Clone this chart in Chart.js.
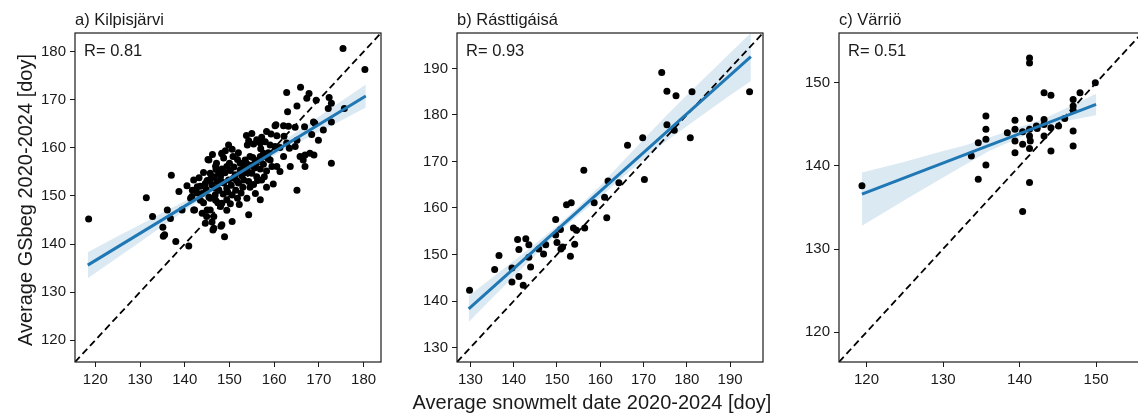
<!DOCTYPE html>
<html>
<head>
<meta charset="utf-8">
<script src="https://cdn.jsdelivr.net/npm/chart.js@4.4.0/dist/chart.umd.min.js"></script>
<style>
  html, body { margin: 0; padding: 0; background: #fff; overflow: hidden; }
  #wrap { position: relative; width: 1138px; height: 415px; overflow: hidden; }
  canvas { position: absolute; top: 0; }
</style>
</head>
<body>
<div id="wrap">
  <canvas id="chartA" width="390" height="415" style="left:0px"></canvas>
  <canvas id="chartB" width="375" height="415" style="left:395px"></canvas>
  <canvas id="chartC" width="366" height="415" style="left:780px"></canvas>
</div>
<script>
"use strict";

// ---- data (snowmelt doy, GSbeg doy) ----
const pointsA = [
  [118.5,145.2],[131.4,149.6],[132.8,145.7],[135.1,143.5],[135.2,141.6],[135.5,141.9],[137.0,154.3],[136.8,145.3],
  [138.0,140.5],[140.9,139.6],[139.4,147.1],[138.7,150.9],[148.9,141.5],
  [160.4,164.8],[162.1,164.6],[158.3,163.4],[159.3,162.9],[160.6,162.5],[162.2,162.4],[157.2,162.2],
  [154.3,161.5],[156.1,161.7],[154.0,160.6],[155.4,160.8],[156.9,161.0],[158.0,161.3],[159.1,160.6],[160.2,160.3],
  [161.3,160.1],[162.8,161.0],[149.1,159.4],[150.6,159.7],[148.3,158.8],
  [157.6,158.9],[158.7,159.0],[145.4,157.5],[147.1,156.8],[148.7,157.9],[152.4,156.8],[153.5,157.5],[154.6,158.2],
  [155.7,156.8],[156.5,157.5],[156.9,158.2],[159.1,157.5],[162.1,158.2],[160.6,156.1],[161.3,155.1],
  [144.2,154.9],[145.7,154.7],[146.5,154.0],[147.6,154.7],[148.3,155.6],[149.4,156.1],[150.2,155.3],[151.3,154.4],
  [152.4,155.4],[153.2,156.0],[154.0,155.3],[155.0,154.7],[156.1,154.0],[156.9,155.6],[158.3,155.2],[159.5,156.1],
  [142.0,153.3],[140.5,152.1],[143.5,152.0],[145.0,153.2],[146.1,152.3],[147.2,153.0],[148.7,152.7],[149.8,153.3],
  [150.9,153.7],[152.0,152.7],[153.2,153.3],[154.3,153.0],[154.6,151.8],[157.2,153.3],[158.3,151.8],[159.8,152.5],
  [149.4,151.6],[147.6,151.3],
  [141.6,149.9],[142.8,150.6],[144.2,148.6],[145.7,149.5],[146.8,150.2],[148.0,147.8],[149.4,149.2],[150.6,150.2],
  [151.8,149.5],[153.9,149.5],[156.9,149.2],[142.0,147.1],[145.7,147.1],[149.4,147.0],
  [146.5,145.7],[154.3,146.1],[150.6,144.7],[148.3,144.0],[144.6,144.3],[146.5,143.3],[136.1,147.1],
  [145.2,157.6],[146.9,156.2],[148.3,158.9],[141.7,151.2],[142.8,151.9],[143.9,150.5],[141.3,149.5],[143.5,149.1],
  [145.4,149.8],[146.9,149.1],[147.6,151.2],[148.3,152.9],[148.3,148.5],[142.2,147.1],[143.9,146.4],[145.0,147.1],
  [144.9,145.7],[146.1,144.6],[148.1,143.7],[146.3,142.9],
  [162.8,171.5],[165.9,172.6],[167.8,171.3],[169.4,169.9],[172.3,170.5],[172.8,169.3],[165.1,168.7],[163.0,167.5],
  [167.3,170.3],[172.1,168.2],[175.7,168.2],[164.7,164.3],[166.8,164.4],[168.8,165.4],[169.1,165.1],[171.0,163.7],
  [172.8,165.4],[168.4,162.8],[169.9,161.6],[165.1,161.6],[164.7,160.3],[165.8,158.2],[166.9,158.5],[168.0,158.9],
  [168.9,158.5],[166.5,157.5],[166.9,156.1],[163.6,156.1],[172.8,156.8],[165.1,151.2],[175.4,180.7],[180.3,176.3],
  [163.2,164.5],[163.4,159.9],[160.2,164.6],
  [147.0,155.5],[148.0,154.0],[149.0,154.8],[150.0,156.8],[151.0,156.0],[151.8,157.6],[152.8,154.2],[153.6,154.8],
  [154.8,156.4],[155.6,155.8],[156.3,153.2],[157.6,156.6],[150.4,152.2],[151.4,151.2],[152.6,150.6],[153.0,151.8],
  [155.4,152.4],[155.8,150.5],[144.6,152.6],[143.2,153.8],[146.8,151.6],[148.6,150.4],[149.6,150.8],[150.2,148.4],
  [152.2,148.2],[147.4,148.6],[144.8,151.4],[151.6,153.2],[153.8,156.8],[150.8,158.2],[146.2,158.6],[149.8,160.6],
  [152.0,159.0],[157.0,159.8],[158.6,157.8],[157.8,154.0],[155.2,158.0],[145.8,153.6],[153.8,162.6],[155.0,163.0]
];
const pointsB = [
  [129.8,142.3],[135.6,146.8],[136.6,149.8],[139.6,144.1],[139.6,147.1],[140.9,153.2],[141.2,151.1],[141.2,145.3],
  [142.2,143.4],[142.8,153.4],[143.5,152.1],[143.5,149.4],[143.9,147.3],[145.8,151.2],[146.9,150.1],[147.4,152.1],
  [149.7,157.5],[149.7,154.2],[150.0,152.6],[150.8,155.4],[150.9,151.2],[151.3,151.6],[152.2,160.7],[153.3,161.1],
  [153.1,149.6],[153.8,155.7],[154.1,152.2],[154.5,155.2],[156.2,168.1],[156.4,155.7],[158.6,161.1],[161.0,162.3],
  [161.5,157.9],[161.8,165.8],[164.3,165.4],[166.3,173.5],[169.8,175.1],[170.2,166.1],[174.2,189.1],[175.4,185.1],
  [175.4,177.9],[177.1,176.7],[177.5,184.1],[180.8,175.1],[181.2,185.0],[194.5,185.0]
];
const pointsC = [
  [119.4,137.6],[133.7,141.2],[134.6,142.8],[134.6,138.4],[135.6,146.0],[135.6,144.4],[135.6,143.2],[135.6,140.1],
  [138.4,144.0],[139.4,145.5],[139.4,144.4],[139.4,143.0],[139.4,141.6],[140.4,142.6],[140.4,144.1],[140.4,134.5],
  [141.3,153.0],[141.3,152.4],[141.3,145.7],[141.3,144.4],[141.3,143.6],[141.4,143.0],[141.3,142.1],[141.3,138.0],
  [142.2,144.8],[142.3,144.5],[143.2,148.8],[143.2,145.6],[143.2,145.0],[143.2,143.6],[144.1,148.5],[144.1,144.6],
  [144.1,141.8],[145.1,144.8],[145.9,145.7],[147.0,148.0],[147.0,147.2],[147.0,146.7],[147.0,144.2],[147.0,142.4],
  [147.9,148.8],[149.9,150.0]
];

// regression fit and confidence band
const fitAx = [118.3, 180.5], fitAy = [135.6, 170.8];
const bandAx = [118.3, 125, 130, 135, 140, 145, 150, 155, 160, 165, 170, 175, 180.5];
const bandAup = [138.3, 141.6, 144.0, 146.5, 148.9, 151.5, 154.1, 157.0, 160.2, 163.3, 166.5, 169.7, 173.2];
const bandAlo = [132.9, 137.2, 140.4, 143.7, 146.9, 150.1, 153.1, 155.8, 158.4, 160.9, 163.3, 165.7, 168.4];

const fitBx = [129.6, 194.8], fitBy = [138.3, 192.5];
const bandBx = [129.6, 135, 140, 145, 150, 155, 160, 165, 170, 175, 180.8, 190, 194.8];
const bandBup = [141.1, 145.0, 148.6, 152.3, 156.1, 160.3, 164.8, 169.8, 174.7, 179.6, 185.0, 193.3, 197.6];
const bandBlo = [135.5, 140.6, 145.3, 149.9, 154.5, 158.5, 162.3, 166.5, 170.4, 174.2, 178.1, 184.2, 187.3];

const fitCx = [119.4, 150.0], fitCy = [136.6, 147.4];
const bandCx = [119.4, 125, 130, 132.6, 136, 140, 143, 146, 150];
const bandCup = [139.2, 140.5, 141.8, 142.4, 143.4, 144.7, 145.6, 146.9, 148.7];
const bandClo = [132.8, 135.9, 138.6, 140.0, 141.8, 143.4, 144.6, 145.4, 146.1];

// axis limits and ticks
const limA = [115.45, 183.9], ticksA = [120, 130, 140, 150, 160, 170, 180];
const limB = [126.9, 197.6], ticksB = [130, 140, 150, 160, 170, 180, 190];
const limC = [116.4, 156.0], ticksC = [120, 130, 140, 150];

const titles = ['a) Kilpisjärvi', 'b) Rásttigáisá', 'c) Värriö'];
const rValues = ['R= 0.81', 'R= 0.93', 'R= 0.51'];

const FONT = '"Liberation Sans", Arial, Helvetica, sans-serif';
const INK = '#1a1a1a';

function xy(xs, ys) { return xs.map((x, i) => ({x: x, y: ys[i]})); }
function pairs(arr) { return arr.map(p => ({x: p[0], y: p[1]})); }

const decorPlugin = {
  id: 'decor',
  afterDatasetsDraw(chart, args, o) {
    const ctx = chart.ctx, a = chart.chartArea;
    ctx.save();
    ctx.strokeStyle = INK;
    ctx.lineWidth = 1.2;
    ctx.strokeRect(a.left, a.top, a.right - a.left, a.bottom - a.top);
    ctx.fillStyle = INK;
    ctx.textAlign = 'left';
    ctx.textBaseline = 'alphabetic';
    ctx.font = '16.5px ' + FONT;
    ctx.fillText(o.title, a.left, 25);
    ctx.fillText(o.r, a.left + 9, a.top + 23);
    if (o.xTitle) {
      ctx.font = '20px ' + FONT;
      ctx.textAlign = 'center';
      ctx.fillText(o.xTitle, o.xTitleX, 409);
    }
    if (o.yTitle) {
      ctx.font = '20px ' + FONT;
      ctx.textAlign = 'center';
      ctx.translate(32, 200);
      ctx.rotate(-Math.PI / 2);
      ctx.fillText(o.yTitle, 0, 0);
    }
    ctx.restore();
  }
};

function axis(lim, tickVals, isX, size) {
  return {
    type: 'linear',
    min: lim[0],
    max: lim[1],
    grid: {display: true, drawOnChartArea: false, drawTicks: true, tickLength: 5, color: INK, lineWidth: 1},
    border: {display: false},
    ticks: {color: INK, font: {size: 15, family: FONT}, padding: 4, maxRotation: 0, autoSkip: false},
    afterBuildTicks: s => { s.ticks = tickVals.map(v => ({value: v})); },
    afterFit: s => { if (isX) s.height = size; else s.width = size; }
  };
}

function makePanel(id, pts, fitX, fitY, bx, bup, blo, lim, ticks, yWidth, rightPad, decor) {
  return new Chart(document.getElementById(id), {
    type: 'scatter',
    data: {
      datasets: [
        {type: 'line', data: xy(fitX, fitY), borderColor: '#1f77b4', borderWidth: 3, pointRadius: 0, order: 0, clip: 0},
        {type: 'line', data: xy(lim, lim), borderColor: '#000', borderWidth: 1.8, borderDash: [7, 4], pointRadius: 0, order: 1, clip: 0},
        {data: pairs(pts), backgroundColor: '#000', borderWidth: 0, pointRadius: 3.5, order: 2},
        {type: 'line', data: xy(bx, bup), borderWidth: 0, pointRadius: 0, fill: '+1', backgroundColor: 'rgba(31,119,180,0.16)', order: 3, clip: 0},
        {type: 'line', data: xy(bx, blo), borderWidth: 0, pointRadius: 0, fill: false, order: 3, clip: 0}
      ]
    },
    options: {
      responsive: false,
      animation: false,
      devicePixelRatio: 1,
      layout: {padding: {top: 33, right: rightPad, bottom: 0, left: 0}},
      plugins: {legend: {display: false}, title: {display: false}, tooltip: {enabled: false}, decor: decor},
      scales: {
        x: axis(lim, ticks, true, 53),
        y: axis(lim, ticks, false, yWidth)
      }
    },
    plugins: [decorPlugin]
  });
}

makePanel('chartA', pointsA, fitAx, fitAy, bandAx, bandAup, bandAlo, limA, ticksA, 75, 9,
  {title: titles[0], r: rValues[0], yTitle: 'Average GSbeg 2020-2024 [doy]'});
makePanel('chartB', pointsB, fitBx, fitBy, bandBx, bandBup, bandBlo, limB, ticksB, 62, 7,
  {title: titles[1], r: rValues[1], xTitle: 'Average snowmelt date 2020-2024 [doy]', xTitleX: 197});
makePanel('chartC', pointsC, fitCx, fitCy, bandCx, bandCup, bandClo, limC, ticksC, 59, 1,
  {title: titles[2], r: rValues[2]});
</script>
</body>
</html>
